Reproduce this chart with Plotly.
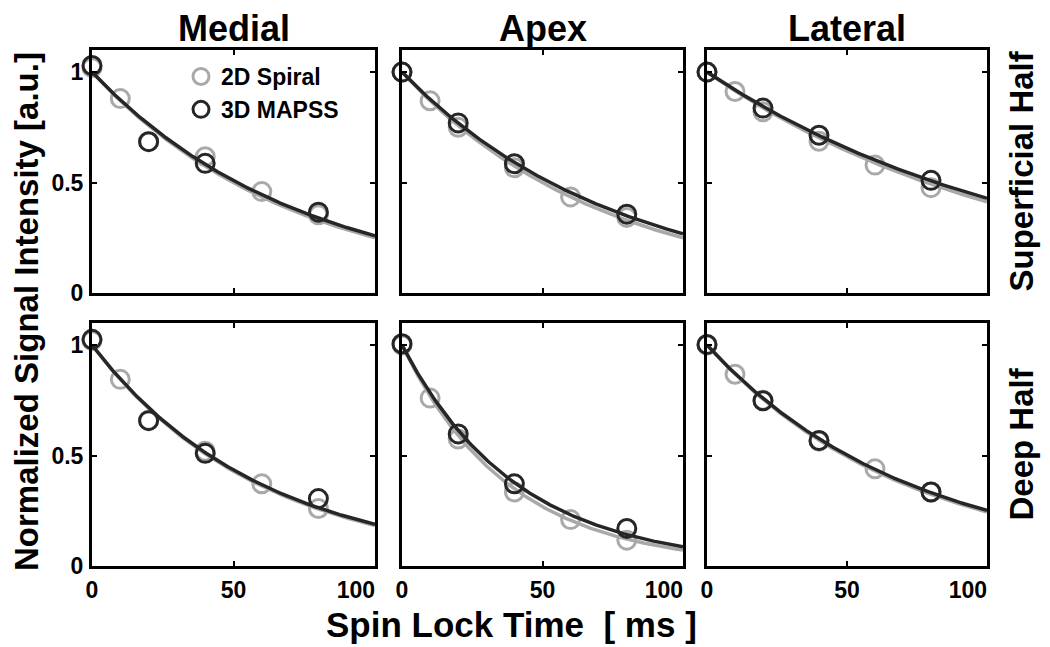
import numpy as np
import plotly.graph_objects as go

# ---------------- data ----------------
columns = ["Medial", "Apex", "Lateral"]
rows = ["Superficial Half", "Deep Half"]

tsl_2d = [0, 10, 20, 40, 60, 80]      # 2D Spiral spin-lock times [ms]
tsl_3d = [0, 20, 40, 80]              # 3D MAPSS spin-lock times [ms]

# normalized signal, panels ordered: row-major (superficial: medial, apex, lateral; deep: ...)
spiral_sup_medial = [1.02, 0.88, 0.685, 0.617, 0.459, 0.354]
spiral_sup_apex = [1.00, 0.87, 0.75, 0.567, 0.435, 0.342]
spiral_sup_lateral = [1.00, 0.912, 0.82, 0.687, 0.579, 0.477]
spiral_deep_medial = [1.02, 0.845, 0.66, 0.52, 0.372, 0.26]
spiral_deep_apex = [1.00, 0.76, 0.575, 0.335, 0.21, 0.117]
spiral_deep_lateral = [1.00, 0.868, 0.75, 0.565, 0.44, 0.335]

mapss_sup_medial = [1.03, 0.685, 0.587, 0.366]
mapss_sup_apex = [1.00, 0.77, 0.585, 0.357]
mapss_sup_lateral = [1.00, 0.837, 0.714, 0.51]
mapss_deep_medial = [1.026, 0.658, 0.51, 0.305]
mapss_deep_apex = [1.006, 0.598, 0.372, 0.17]
mapss_deep_lateral = [1.003, 0.748, 0.568, 0.335]

# mono-exponential fit time constants T1rho [ms] for each panel (row-major)
fit_t1rho_2d = [72, 72, 113, 59, 38, 71]
fit_t1rho_3d = [74, 76, 118, 60, 41, 72.5]

x_ticks = [0, 50, 100]
x_tick_text = ["0", "50", "100"]
y_ticks = [0, 0.5, 1]
y_tick_text = ["0", "0.5", "1"]

spiral = [spiral_sup_medial, spiral_sup_apex, spiral_sup_lateral,
          spiral_deep_medial, spiral_deep_apex, spiral_deep_lateral]
mapss = [mapss_sup_medial, mapss_sup_apex, mapss_sup_lateral,
         mapss_deep_medial, mapss_deep_apex, mapss_deep_lateral]

# ---------------- layout geometry ----------------
W, H = 1050, 647
OFF = 8  # default page body margin of the written html
col_px = [(92, 375), (402, 683), (707, 987)]
row_px = [(50, 293), (323, 566)]


def fx(px):
    return (px - OFF) / W


def fy(py):
    return 1 - (py - OFF) / H


GRAY = "#a9a9a9"
DARK = "#262626"
FONT = "Liberation Sans, Arial, sans-serif"
TICKFONT = dict(family=FONT, size=23, color="black", weight="bold")

fig = go.Figure()
t_fit = np.linspace(0, 100, 201)

layout_axes = {}
for r in range(2):
    for c in range(3):
        k = r * 3 + c
        idx = "" if k == 0 else str(k + 1)
        xa, ya = "x" + idx, "y" + idx
        first = (k == 0)
        fig.add_trace(go.Scatter(x=t_fit, y=np.exp(-t_fit / fit_t1rho_2d[k]), mode="lines",
                                 line=dict(color=GRAY, width=3.5), xaxis=xa, yaxis=ya,
                                 showlegend=False, hoverinfo="skip"))
        fig.add_trace(go.Scatter(x=tsl_2d, y=spiral[k], mode="markers", name="2D Spiral",
                                 marker=dict(symbol="circle", size=18, color="rgba(0,0,0,0)",
                                             line=dict(color=GRAY, width=3)),
                                 cliponaxis=False, xaxis=xa, yaxis=ya, showlegend=first,
                                 legendrank=1))
        fig.add_trace(go.Scatter(x=t_fit, y=np.exp(-t_fit / fit_t1rho_3d[k]), mode="lines",
                                 line=dict(color=DARK, width=3.5), xaxis=xa, yaxis=ya,
                                 showlegend=False, hoverinfo="skip"))
        fig.add_trace(go.Scatter(x=tsl_3d, y=mapss[k], mode="markers", name="3D MAPSS",
                                 marker=dict(symbol="circle", size=18, color="rgba(0,0,0,0)",
                                             line=dict(color=DARK, width=3)),
                                 cliponaxis=False, xaxis=xa, yaxis=ya, showlegend=first,
                                 legendrank=2))
        x0, x1 = col_px[c]
        y0, y1 = row_px[r]
        axis_common = dict(showline=True, linecolor="black", linewidth=3, mirror="ticks",
                           ticks="inside", ticklen=5, tickwidth=2, tickcolor="black",
                           showgrid=False, zeroline=False, automargin=False,
                           tickfont=TICKFONT)
        # last x label is drawn by an overlay axis so that it ends at the axis corner
        layout_axes["xaxis" + idx] = dict(axis_common, domain=[fx(x0), fx(x1)], range=[0, 100],
                                          tickvals=x_ticks,
                                          ticktext=x_tick_text[:-1] + [""],
                                          showticklabels=(r == 1), anchor=ya,
                                          ticklabelstandoff=1)
        layout_axes["yaxis" + idx] = dict(axis_common, domain=[fy(y1), fy(y0)],
                                          range=[0, 1.1], tickvals=y_ticks, ticktext=y_tick_text,
                                          showticklabels=(c == 0), anchor=xa,
                                          ticklabelstandoff=1)
        if r == 1:
            ov = str(7 + c)
            # empty carrier trace so the overlay axis is drawn
            fig.add_trace(go.Scatter(x=[None], y=[None], mode="markers", xaxis="x" + ov,
                                     yaxis=ya, showlegend=False, hoverinfo="skip"))
            layout_axes["xaxis" + ov] = dict(domain=[fx(x0), fx(x1)], range=[0, 100],
                                             overlaying=xa, anchor=ya, side="bottom",
                                             tickvals=x_ticks[-1:], ticktext=x_tick_text[-1:],
                                             ticklabelposition="outside left",
                                             ticks="", showline=False, showgrid=False,
                                             zeroline=False, automargin=False,
                                             ticklabelstandoff=8, tickfont=TICKFONT)

annotations = []
for c, name in enumerate(columns):
    annotations.append(dict(text=name, x=fx((col_px[c][0] + col_px[c][1]) / 2), y=fy(28),
                            xref="paper", yref="paper", showarrow=False,
                            xanchor="center", yanchor="middle",
                            font=dict(family=FONT, size=36, color="black", weight="bold")))
for r, name in enumerate(rows):
    annotations.append(dict(text=name, x=fx(1021), y=fy((row_px[r][0] + row_px[r][1]) / 2),
                            xref="paper", yref="paper", showarrow=False, textangle=-90,
                            xanchor="center", yanchor="middle",
                            font=dict(family=FONT, size=33, color="black", weight="bold")))
annotations.append(dict(text="Normalized Signal Intensity [a.u.]", x=fx(26), y=fy(312),
                        xref="paper", yref="paper", showarrow=False, textangle=-90,
                        xanchor="center", yanchor="middle",
                        font=dict(family=FONT, size=33, color="black", weight="bold")))
annotations.append(dict(text="Spin Lock Time \u00a0[ ms ]", x=fx(511), y=fy(624),
                        xref="paper", yref="paper", showarrow=False,
                        xanchor="center", yanchor="middle",
                        font=dict(family=FONT, size=35, color="black", weight="bold")))

fig.update_layout(width=W, height=H, margin=dict(l=0, r=0, t=0, b=0, autoexpand=False),
                  paper_bgcolor="white", plot_bgcolor="white",
                  annotations=annotations,
                  legend=dict(x=fx(181), y=fy(55), xanchor="left", yanchor="top",
                              bgcolor="rgba(0,0,0,0)", borderwidth=0,
                              font=dict(family=FONT, size=23, color="black", weight="bold"),
                              itemwidth=30, tracegroupgap=0),
                  **layout_axes)

fig.write_html("out.html")
